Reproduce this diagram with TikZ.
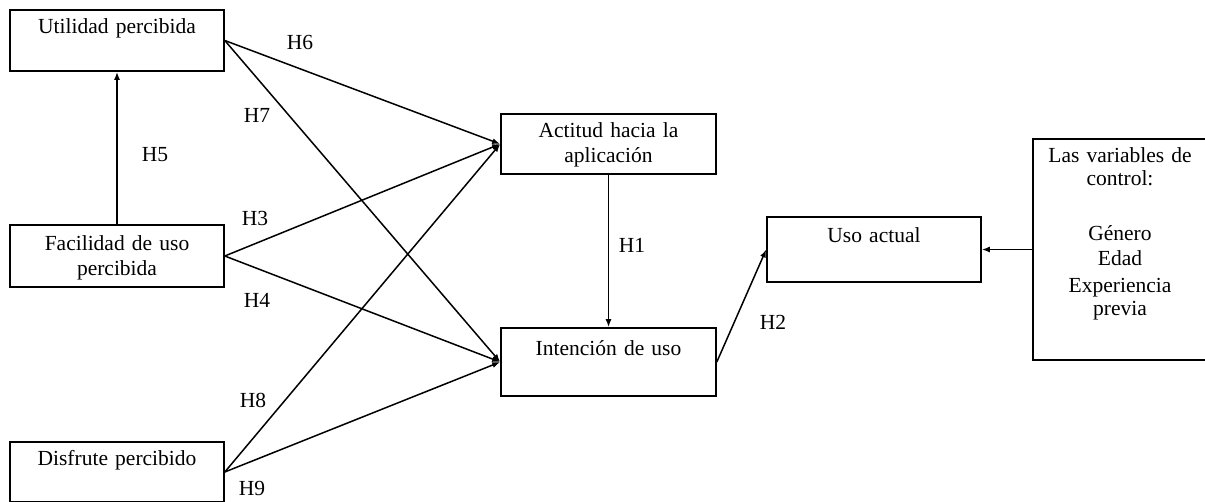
\documentclass[tikz,border=0pt]{standalone}
\usepackage{fontspec}
\setmainfont{Liberation Serif}
\usetikzlibrary{arrows.meta}

\tikzset{
  BoxStyle/.style = {draw, line width=1.6pt, inner xsep=0pt, inner ysep=0pt,
                     align=center, text width=214pt},
  EdgeStyle/.style = {line width=1.5pt, -{Latex[length=8pt,width=6pt]}},
  LabelStyle/.style = {inner sep=0pt}
}

\begin{document}
\begin{tikzpicture}[x=1pt, y=-1pt, font=\fontsize{21.5}{25}\selectfont]
    \useasboundingbox (0,0) rectangle (1205,501);
    \clip (0,0) rectangle (1205,501);

    \node[BoxStyle, text height=23pt, text depth=38pt] (util)  at (117,40.5) {Utilidad percibida};
    \node[BoxStyle, text height=25pt, text depth=37pt] (facil) at (117,256)  {Facilidad de uso\\percibida};
    \node[BoxStyle, text height=23pt, text depth=37pt] (disfr) at (117,472)  {Disfrute percibido};

    \node[BoxStyle, text width=215pt, text height=23pt, text depth=37pt] (actit) at (608.5,144) {Actitud hacia la\\aplicación};
    \node[BoxStyle, text width=215pt, text height=27pt, text depth=41pt] (inten) at (608.5,362) {Intención de uso};

    \node[BoxStyle, text height=25pt, text depth=40pt] (uso)  at (874,249.5)  {Uso actual};
    \node[BoxStyle, text width=174pt, text height=23pt, text depth=198pt] (ctrl) at (1120,249.5)
        {Las variables de\\[-2pt]control:\\[30pt]Género\\Edad\\[2pt]Experiencia\\[-2pt]previa};

    \draw[EdgeStyle] (facil.north) -- (util.south);

    \draw[EdgeStyle] (util.east)  -- (actit.west);
    \draw[EdgeStyle] (util.east)  -- (inten.west);
    \draw[EdgeStyle] (facil.east) -- (actit.west);
    \draw[EdgeStyle] (facil.east) -- (inten.west);
    \draw[EdgeStyle] (disfr.east) -- (actit.west);
    \draw[EdgeStyle] (disfr.east) -- (inten.west);

    \draw[EdgeStyle] (actit.south) -- (inten.north);
    \draw[EdgeStyle] (inten.east)  -- (uso.west);
    \draw[EdgeStyle] (ctrl.west)   -- (uso.east);

    \node[LabelStyle] (h1) at (632,245) {H1};
    \node[LabelStyle] (h2) at (773,322) {H2};
    \node[LabelStyle] (h3) at (255,218) {H3};
    \node[LabelStyle] (h4) at (257,300) {H4};
    \node[LabelStyle] (h5) at (155,155) {H5};
    \node[LabelStyle] (h6) at (300,42)  {H6};
    \node[LabelStyle] (h7) at (257,115) {H7};
    \node[LabelStyle] (h8) at (253,400) {H8};
    \node[LabelStyle] (h9) at (252,488) {H9};
\end{tikzpicture}
\end{document}
